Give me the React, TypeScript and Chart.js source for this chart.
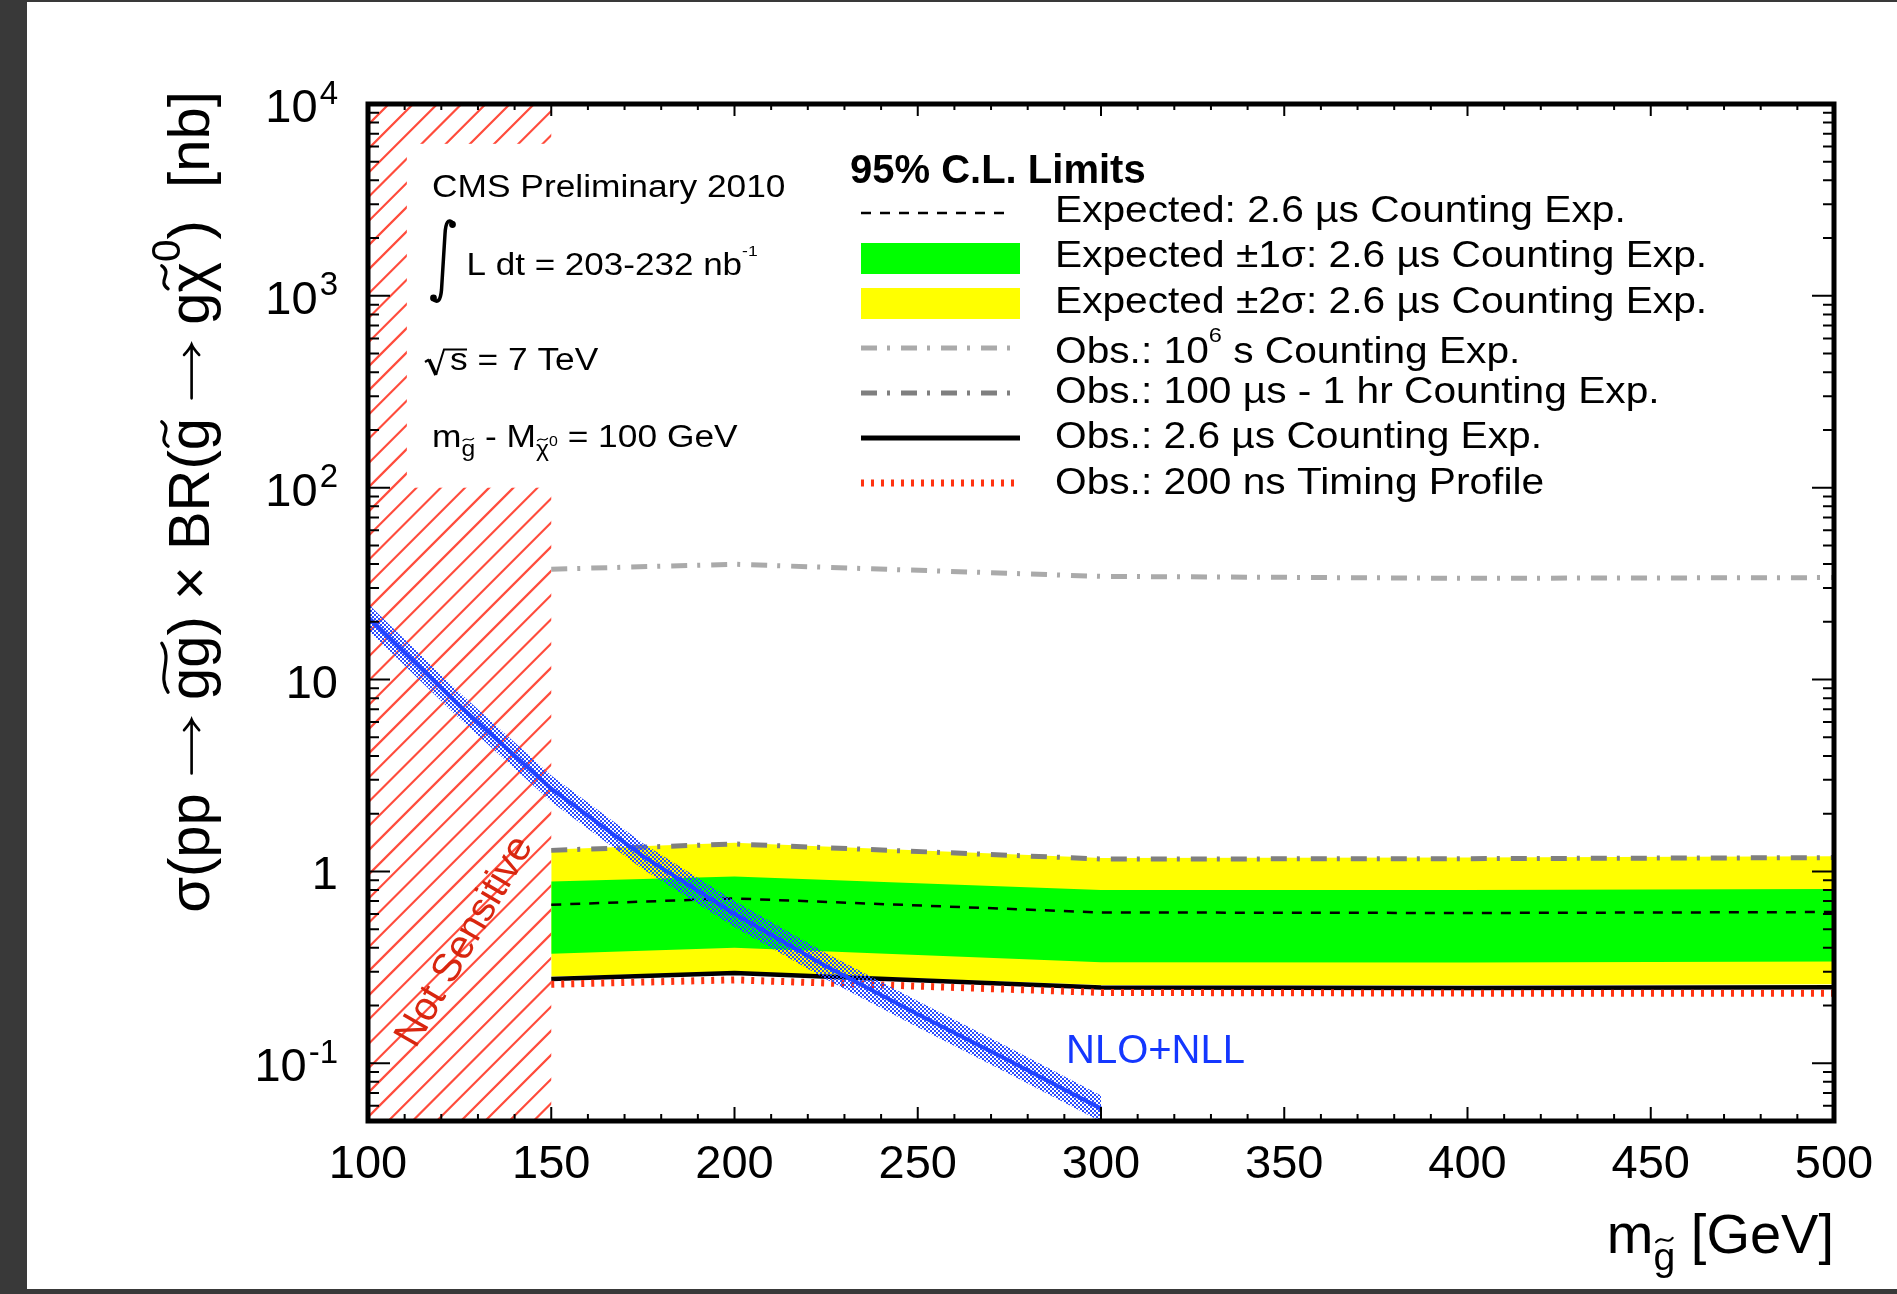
import React, { useEffect, useRef } from 'react';
import { Chart, registerables } from 'chart.js';

Chart.register(...registerables);

const W = 1897;
const H = 1294;
const SANS = "'Liberation Sans', Arial, Helvetica, sans-serif";

// ---------------- data ----------------
const massPoints = [150, 200, 300, 400, 500];
const expectedLimit = [0.67, 0.723, 0.611, 0.607, 0.614];
const expected1SigmaUp = [0.887, 0.94, 0.8, 0.8, 0.81];
const expected1SigmaDown = [0.372, 0.4, 0.336, 0.335, 0.339];
const expected2SigmaUp = [1.3, 1.41, 1.175, 1.18, 1.2];
const expected2SigmaDown = [0.283, 0.3, 0.256, 0.255, 0.258];
const obs1e6sCounting = [37.6, 39.9, 34.5, 33.7, 34.0];
const obs100usCounting = [1.287, 1.39, 1.16, 1.165, 1.18];
const obs26usCounting = [0.275, 0.295, 0.248, 0.247, 0.249];
const obs200nsTiming = [0.258, 0.272, 0.234, 0.232, 0.232];

const nloMass = [100, 125, 150, 175, 200, 225, 250, 275, 300];
const nloXsec = [21.2, 7.3, 2.7, 1.2, 0.6, 0.32, 0.18, 0.103, 0.058];
const nloXsecUp = [24.8, 8.54, 3.16, 1.4, 0.702, 0.374, 0.211, 0.1205, 0.0679];
const nloXsecDown = [18.1, 6.24, 2.31, 1.026, 0.513, 0.274, 0.154, 0.088, 0.0496];

const xTickValues = [100, 150, 200, 250, 300, 350, 400, 450, 500];
const xTickLabels = ['100', '150', '200', '250', '300', '350', '400', '450', '500'];
const yTickValues = [1e4, 1e3, 100, 10, 1, 0.1];
const yTickBases = ['10', '10', '10', '10', '1', '10'];
const yTickExponents = ['4', '3', '2', '', '', '-1'];

const notSensitiveMass = [100, 150];
const infoBoxMass = 110.6;
const infoBoxSigma = [100, 6200];

// ---------------- colours ----------------
const YELLOW = '#ffff00';
const GREEN = '#00ff00';
const LIGHT_GRAY = '#aaaaaa';
const DARK_GRAY = '#7f7f7f';
const RED_DOT = '#ff3311';
const BLUE = '#2244ff';
const HATCH = '#ff4c3c';
const NOT_SENS = '#d8260f';
const NLO_TXT = '#1437ff';

type Seg = { t: string; s?: number; dy?: number; tilde?: boolean; bold?: boolean; arrow?: number };
interface RichOpts {
  align?: 'left' | 'right' | 'center';
  stretch?: number;
  rot?: number;
  color?: string;
  bold?: boolean;
  middle?: boolean;
}

function fontStr(px: number, bold?: boolean) {
  return `${bold ? 'bold ' : ''}${px}px ${SANS}`;
}

function drawTilde(ctx: CanvasRenderingContext2D, x0: number, w: number, yc: number, fs: number) {
  const pad = w * 0.12;
  const a = fs * 0.055;
  const xs = x0 + pad;
  const xe = x0 + w - pad;
  const ww = xe - xs;
  ctx.save();
  ctx.lineWidth = Math.max(1.2, fs * 0.055);
  ctx.lineCap = 'round';
  ctx.beginPath();
  ctx.moveTo(xs, yc + a);
  ctx.bezierCurveTo(xs + ww * 0.35, yc - 2.6 * a, xs + ww * 0.65, yc + 2.6 * a, xe, yc - a);
  ctx.stroke();
  ctx.restore();
}

function drawArrow(ctx: CanvasRenderingContext2D, x0: number, w: number, y: number, fs: number) {
  const xs = x0 + fs * 0.06;
  const xe = x0 + w - fs * 0.06;
  const h = fs * 0.13;
  ctx.save();
  ctx.lineWidth = Math.max(1.2, fs * 0.045);
  ctx.lineCap = 'round';
  ctx.beginPath();
  ctx.moveTo(xs, y);
  ctx.lineTo(xe, y);
  ctx.moveTo(xe - h * 1.4, y - h);
  ctx.quadraticCurveTo(xe - h * 0.5, y - h * 0.2, xe, y);
  ctx.quadraticCurveTo(xe - h * 0.5, y + h * 0.2, xe - h * 1.4, y + h);
  ctx.stroke();
  ctx.restore();
}

function drawRich(ctx: CanvasRenderingContext2D, segs: Seg[], x: number, y: number, size: number, o: RichOpts = {}) {
  const st = o.stretch ?? 1;
  ctx.save();
  ctx.translate(x, y);
  if (o.rot) ctx.rotate(o.rot);
  ctx.scale(st, 1);
  ctx.fillStyle = o.color ?? '#000';
  ctx.strokeStyle = o.color ?? '#000';
  ctx.textAlign = 'left';
  ctx.textBaseline = 'alphabetic';
  const widths = segs.map((sg) => {
    const fs = size * (sg.s ?? 1);
    if (sg.arrow) return sg.arrow * fs;
    ctx.font = fontStr(fs, sg.bold ?? o.bold);
    return ctx.measureText(sg.t).width;
  });
  const total = widths.reduce((a, b) => a + b, 0);
  let cx = o.align === 'right' ? -total : o.align === 'center' ? -total / 2 : 0;
  const by = o.middle ? size * 0.36 : 0;
  segs.forEach((sg, i) => {
    const fs = size * (sg.s ?? 1);
    const yy = by + (sg.dy ?? 0) * size;
    if (sg.arrow) {
      drawArrow(ctx, cx, widths[i], yy - fs * 0.3, fs);
    } else {
      ctx.font = fontStr(fs, sg.bold ?? o.bold);
      ctx.fillText(sg.t, cx, yy);
      if (sg.tilde) drawTilde(ctx, cx, widths[i], yy - fs * 0.76, fs);
    }
    cx += widths[i];
  });
  ctx.restore();
}

function seg(ctx: CanvasRenderingContext2D, x0: number, y0: number, x1: number, y1: number, color: string, lw: number, dash: number[] = []) {
  ctx.save();
  ctx.strokeStyle = color;
  ctx.lineWidth = lw;
  ctx.lineCap = 'butt';
  ctx.setLineDash(dash);
  ctx.beginPath();
  ctx.moveTo(x0, y0);
  ctx.lineTo(x1, y1);
  ctx.stroke();
  ctx.restore();
}

const rootPlugin = {
  id: 'rootStyle',
  beforeDraw(chart: any) {
    const ctx: CanvasRenderingContext2D = chart.ctx;
    ctx.save();
    ctx.fillStyle = '#393939';
    ctx.fillRect(0, 0, W, H);
    ctx.fillStyle = '#ffffff';
    ctx.fillRect(27, 2, W - 27, 1287);
    ctx.restore();
  },
  beforeDatasetsDraw(chart: any) {
    const ctx: CanvasRenderingContext2D = chart.ctx;
    const a = chart.chartArea;
    const xs = chart.scales.x;
    const ys = chart.scales.y;
    const x0 = xs.getPixelForValue(notSensitiveMass[0]);
    const x1 = xs.getPixelForValue(notSensitiveMass[1]);
    ctx.save();
    ctx.beginPath();
    ctx.rect(x0, a.top, x1 - x0, a.bottom - a.top);
    ctx.clip();
    ctx.strokeStyle = HATCH;
    ctx.lineWidth = 2.2;
    const sp = 24.2;
    const c0 = 1509.3;
    let c = c0 - Math.ceil((c0 - (x0 + a.top)) / sp) * sp;
    ctx.beginPath();
    for (; c <= x1 + a.bottom + sp; c += sp) {
      ctx.moveTo(c - a.bottom, a.bottom);
      ctx.lineTo(c - a.top, a.top);
    }
    ctx.stroke();
    ctx.restore();
    // white info box covering the hatch
    const bx = xs.getPixelForValue(infoBoxMass);
    const by0 = ys.getPixelForValue(infoBoxSigma[1]);
    const by1 = ys.getPixelForValue(infoBoxSigma[0]);
    ctx.save();
    ctx.fillStyle = '#ffffff';
    ctx.fillRect(bx, by0, x1 - bx + 3, by1 - by0);
    ctx.restore();
  },
  afterDatasetsDraw(chart: any) {
    const ctx: CanvasRenderingContext2D = chart.ctx;
    const a = chart.chartArea;
    const xs = chart.scales.x;
    const ys = chart.scales.y;

    // ---- ticks ----
    ctx.save();
    ctx.strokeStyle = '#000';
    ctx.lineWidth = 2;
    ctx.beginPath();
    for (let v = 100; v <= 500; v += 10) {
      const px = xs.getPixelForValue(v);
      const major = xTickValues.includes(v);
      ctx.moveTo(px, a.bottom);
      ctx.lineTo(px, a.bottom - (major ? 14 : 7));
      ctx.moveTo(px, a.top);
      ctx.lineTo(px, a.top + (major ? 12 : 6));
    }
    for (let d = 0.01; d < 2e4; d *= 10) {
      for (let m = 1; m <= 9; m++) {
        const v = m * d;
        if (v < 0.0499 || v > 1.0001e4) continue;
        const py = ys.getPixelForValue(v);
        const L = m === 1 ? 22 : 11;
        ctx.moveTo(a.left, py);
        ctx.lineTo(a.left + L, py);
        ctx.moveTo(a.right, py);
        ctx.lineTo(a.right - L, py);
      }
    }
    ctx.stroke();
    ctx.restore();

    // ---- frame ----
    ctx.save();
    ctx.strokeStyle = '#000';
    ctx.lineWidth = 5;
    ctx.strokeRect(a.left, a.top, a.right - a.left, a.bottom - a.top);
    ctx.restore();

    // ---- tick labels ----
    ctx.save();
    ctx.fillStyle = '#000';
    ctx.textBaseline = 'alphabetic';
    ctx.textAlign = 'center';
    ctx.font = fontStr(47);
    xTickValues.forEach((v, i) => {
      ctx.fillText(xTickLabels[i], xs.getPixelForValue(v), a.bottom + 57);
    });
    ctx.textAlign = 'left';
    yTickValues.forEach((v, i) => {
      const py = ys.getPixelForValue(v);
      const base = yTickBases[i];
      const ex = yTickExponents[i];
      ctx.font = fontStr(47);
      const wb = ctx.measureText(base).width;
      ctx.font = fontStr(33);
      const we = ex ? ctx.measureText(ex).width + 2 : 0;
      const xr = a.left - 30;
      const xStart = xr - wb - we;
      ctx.font = fontStr(47);
      ctx.fillText(base, xStart, py + 18);
      if (ex) {
        ctx.font = fontStr(33);
        ctx.fillText(ex, xStart + wb + 2, py + 18 - 18.5);
      }
    });
    ctx.restore();

    // ---- axis titles ----
    drawRich(
      ctx,
      [
        { t: 'σ(pp ' },
        { t: '', arrow: 1.05 },
        { t: ' ' },
        { t: 'gg', tilde: true },
        { t: ') × BR(' },
        { t: 'g', tilde: true },
        { t: ' ' },
        { t: '', arrow: 1.05 },
        { t: ' g' },
        { t: 'χ', tilde: true },
        { t: '0', s: 0.7, dy: -0.5 },
        { t: ')  [nb]' },
      ],
      209,
      502,
      58,
      { align: 'center', rot: -Math.PI / 2 }
    );
    drawRich(ctx, [{ t: 'm' }, { t: 'g', s: 0.7, dy: 0.3, tilde: true }, { t: ' [GeV]' }], a.right, 1253, 56, {
      align: 'right',
    });

    // ---- Not Sensitive ----
    drawRich(ctx, [{ t: 'Not Sensitive' }], 462, 940, 40, {
      align: 'center',
      middle: true,
      rot: (-60 * Math.PI) / 180,
      color: NOT_SENS,
    });

    // ---- NLO+NLL ----
    drawRich(ctx, [{ t: 'NLO+NLL' }], 1066, 1063, 40, { color: NLO_TXT });

    // ---- CMS info block ----
    drawRich(ctx, [{ t: 'CMS Preliminary 2010' }], 432, 196.5, 31, { stretch: 1.14 });
    ctx.save();
    ctx.strokeStyle = '#000';
    ctx.fillStyle = '#000';
    ctx.lineWidth = 3.5;
    ctx.lineCap = 'round';
    ctx.beginPath();
    ctx.moveTo(453, 223);
    ctx.quadraticCurveTo(446, 216, 445, 234);
    ctx.lineTo(441.5, 290);
    ctx.quadraticCurveTo(440, 306, 433, 299);
    ctx.stroke();
    ctx.beginPath();
    ctx.arc(452.5, 224.5, 3.4, 0, Math.PI * 2);
    ctx.arc(433.5, 298, 3.4, 0, Math.PI * 2);
    ctx.fill();
    ctx.restore();
    drawRich(ctx, [{ t: 'L dt = 203-232 nb' }, { t: '-1', s: 0.5, dy: -0.6 }], 466.5, 275, 31, { stretch: 1.13 });
    ctx.save();
    ctx.strokeStyle = '#000';
    ctx.lineJoin = 'miter';
    ctx.lineWidth = 2.2;
    ctx.beginPath();
    ctx.moveTo(425, 362);
    ctx.lineTo(429, 359.5);
    ctx.stroke();
    ctx.lineWidth = 3.6;
    ctx.beginPath();
    ctx.moveTo(429, 359.5);
    ctx.lineTo(436, 375);
    ctx.stroke();
    ctx.lineWidth = 2;
    ctx.beginPath();
    ctx.moveTo(436, 375);
    ctx.lineTo(444, 349.5);
    ctx.lineTo(467, 349.5);
    ctx.stroke();
    ctx.restore();
    drawRich(ctx, [{ t: 's = 7 TeV' }], 450, 370, 31, { stretch: 1.14 });
    drawRich(
      ctx,
      [
        { t: 'm' },
        { t: 'g', s: 0.7, dy: 0.3, tilde: true },
        { t: ' - M' },
        { t: 'χ', s: 0.7, dy: 0.3, tilde: true },
        { t: '0', s: 0.45, dy: -0.02 },
        { t: ' = 100 GeV' },
      ],
      432,
      446.7,
      31,
      { stretch: 1.14 }
    );

    // ---- legend ----
    const lx0 = 861;
    const lx1 = 1020;
    const tx = 1055;
    const LS = 36;
    const LST = 1.13;
    drawRich(ctx, [{ t: '95% C.L. Limits' }], 850, 183, 40, { bold: true });
    seg(ctx, lx0, 213, 1012, 213, '#000', 2.5, [10, 9]);
    drawRich(ctx, [{ t: 'Expected: 2.6 µs Counting Exp.' }], tx, 222, LS, { stretch: LST });
    ctx.save();
    ctx.fillStyle = GREEN;
    ctx.fillRect(lx0, 243, lx1 - lx0, 31);
    ctx.fillStyle = YELLOW;
    ctx.fillRect(lx0, 288, lx1 - lx0, 31);
    ctx.restore();
    drawRich(ctx, [{ t: 'Expected ±1σ: 2.6 µs Counting Exp.' }], tx, 267, LS, { stretch: LST });
    drawRich(ctx, [{ t: 'Expected ±2σ: 2.6 µs Counting Exp.' }], tx, 313, LS, { stretch: LST });
    seg(ctx, lx0, 348, 1012, 348, LIGHT_GRAY, 5, [16, 10, 3, 11]);
    drawRich(ctx, [{ t: 'Obs.: 10' }, { t: '6', s: 0.58, dy: -0.58 }, { t: ' s Counting Exp.' }], tx, 363, LS, {
      stretch: LST,
    });
    seg(ctx, lx0, 393, 1012, 393, DARK_GRAY, 5, [16, 10, 3, 11]);
    drawRich(ctx, [{ t: 'Obs.: 100 µs - 1 hr Counting Exp.' }], tx, 403, LS, { stretch: LST });
    seg(ctx, lx0, 438, lx1, 438, '#000', 5);
    drawRich(ctx, [{ t: 'Obs.: 2.6 µs Counting Exp.' }], tx, 447.5, LS, { stretch: LST });
    seg(ctx, lx0, 483, 1016, 483, RED_DOT, 7, [3, 7]);
    drawRich(ctx, [{ t: 'Obs.: 200 ns Timing Profile' }], tx, 494, LS, { stretch: LST });
  },
};

function pts(xs: number[], ys: number[]) {
  return xs.map((x, i) => ({ x, y: ys[i] }));
}

export default function App() {
  const ref = useRef<HTMLCanvasElement | null>(null);
  useEffect(() => {
    const canvas = ref.current;
    if (!canvas) return;
    const pc = document.createElement('canvas');
    pc.width = 4;
    pc.height = 4;
    const pctx = pc.getContext('2d')!;
    pctx.fillStyle = '#2a4cff';
    pctx.fillRect(0, 0, 2, 2);
    pctx.fillRect(2, 2, 2, 2);
    const ctx = canvas.getContext('2d')!;
    const pattern = ctx.createPattern(pc, 'repeat');
    const clear = 'rgba(0,0,0,0)';
    const common = { pointRadius: 0, pointHoverRadius: 0, tension: 0, borderCapStyle: 'butt' as const };

    const chart = new Chart(canvas, {
      type: 'line',
      data: {
        datasets: [
          { ...common, label: 'NLO+NLL', data: pts(nloMass, nloXsec), borderColor: BLUE, borderWidth: 4, fill: false, order: 0 },
          { ...common, label: 'NLO+NLL up', data: pts(nloMass, nloXsecUp), borderColor: clear, borderWidth: 1, backgroundColor: pattern as any, fill: '+1', order: 1 },
          { ...common, label: 'NLO+NLL down', data: pts(nloMass, nloXsecDown), borderColor: clear, borderWidth: 1, fill: false, order: 1 },
          { ...common, label: 'Obs.: 200 ns Timing Profile', data: pts(massPoints, obs200nsTiming), borderColor: RED_DOT, borderWidth: 7, borderDash: [3, 7], fill: false, order: 2 },
          { ...common, label: 'Obs.: 2.6 µs Counting Exp.', data: pts(massPoints, obs26usCounting), borderColor: '#000', borderWidth: 4.5, fill: false, order: 3 },
          { ...common, label: 'Obs.: 100 µs - 1 hr Counting Exp.', data: pts(massPoints, obs100usCounting), borderColor: DARK_GRAY, borderWidth: 5, borderDash: [16, 10, 3, 11], fill: false, order: 4 },
          { ...common, label: 'Obs.: 10^6 s Counting Exp.', data: pts(massPoints, obs1e6sCounting), borderColor: LIGHT_GRAY, borderWidth: 5, borderDash: [16, 10, 3, 11], fill: false, order: 4 },
          { ...common, label: 'Expected', data: pts(massPoints, expectedLimit), borderColor: '#000', borderWidth: 2.5, borderDash: [10, 9], fill: false, order: 5 },
          { ...common, label: '+1 sigma', data: pts(massPoints, expected1SigmaUp), borderColor: clear, borderWidth: 1, backgroundColor: GREEN, fill: '+1', order: 6 },
          { ...common, label: '-1 sigma', data: pts(massPoints, expected1SigmaDown), borderColor: clear, borderWidth: 1, fill: false, order: 6 },
          { ...common, label: '+2 sigma', data: pts(massPoints, expected2SigmaUp), borderColor: clear, borderWidth: 1, backgroundColor: YELLOW, fill: '+1', order: 7 },
          { ...common, label: '-2 sigma', data: pts(massPoints, expected2SigmaDown), borderColor: clear, borderWidth: 1, fill: false, order: 7 },
        ],
      },
      options: {
        animation: false,
        responsive: false,
        devicePixelRatio: 1,
        events: [],
        layout: { padding: { left: 368, top: 104, right: W - 1834, bottom: H - 1121 } },
        scales: {
          x: { type: 'linear', min: 100, max: 500, display: false },
          y: { type: 'logarithmic', min: 0.05, max: 1e4, display: false },
        },
        plugins: {
          legend: { display: false },
          tooltip: { enabled: false },
          filler: { propagate: false },
        },
      },
      plugins: [rootPlugin],
    });
    return () => chart.destroy();
  }, []);

  return (
    <div style={{ position: 'absolute', left: 0, top: 0, width: W, height: H }}>
      <canvas ref={ref} width={W} height={H} style={{ display: 'block', width: W, height: H }} />
    </div>
  );
}
